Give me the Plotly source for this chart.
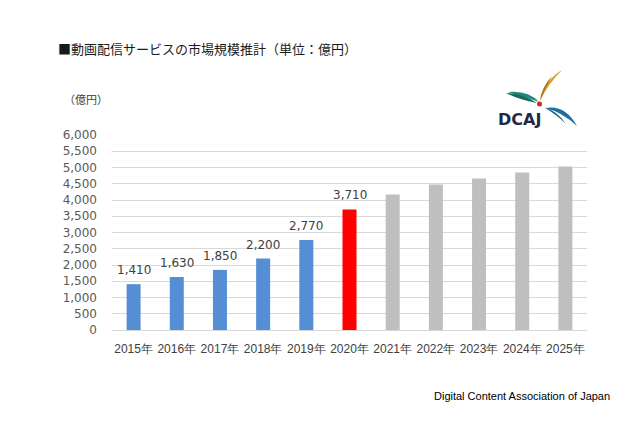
import plotly.graph_objects as go

# ---- data ----
years = ["2015年", "2016年", "2017年", "2018年", "2019年", "2020年",
         "2021年", "2022年", "2023年", "2024年", "2025年"]
values = [1410, 1630, 1850, 2200, 2770, 3710, 4170, 4480, 4660, 4850, 5030]
labeled = [True, True, True, True, True, True, False, False, False, False, False]
bar_colors = ["#558ED5"] * 5 + ["#FF0000"] + ["#BFBFBF"] * 5
y_ticks = [0, 500, 1000, 1500, 2000, 2500, 3000, 3500, 4000, 4500, 5000, 5500, 6000]

title_text = "■動画配信サービスの市場規模推計（単位：億円）"
unit_text = "（億円）"
source_text = "Digital Content Association of Japan"

# page body has an 8px margin, so the figure is laid out 8px in from the window corner
OFF = 8
W, H = 640 - OFF, 425 - OFF
# plot area in window pixels: x 112..587, y 135..330
L = 112 - OFF
T = 135 - OFF
R = W - (587 - OFF)
B = H - (330 - OFF)
PW, PH = W - L - R, H - T - B


def px(x):
    return (x - OFF - L) / PW


def py(y):
    return (H - B - (y - OFF)) / PH


fig = go.Figure()
fig.add_trace(go.Bar(
    x=years, y=values, marker=dict(color=bar_colors, line=dict(width=0)),
    hoverinfo="skip", showlegend=False,
))

annotations = []
for yr, v, lab in zip(years, values, labeled):
    if lab:
        annotations.append(dict(
            x=yr, y=v, xref="x", yref="y", text=f"{v:,}", showarrow=False,
            yanchor="bottom", yshift=5,
            font=dict(family="DejaVu Sans", size=12, color="#404040"),
        ))

annotations += [
    dict(xref="paper", yref="paper", x=px(56), y=py(48), xanchor="left", yanchor="middle",
         text=title_text, showarrow=False,
         font=dict(family="Noto Sans CJK JP", size=13, color="#1a1a1a")),
    dict(xref="paper", yref="paper", x=px(62), y=py(99), xanchor="left", yanchor="middle",
         text=unit_text, showarrow=False,
         font=dict(family="Noto Sans CJK JP", size=11, color="#404040")),
    dict(xref="paper", yref="paper", x=px(612), y=py(396), xanchor="right", yanchor="middle",
         text=source_text, showarrow=False,
         font=dict(family="Liberation Sans", size=11, color="#000000")),
    dict(xref="paper", yref="paper", x=px(496), y=py(119), xanchor="left", yanchor="middle",
         text="<b>DCAJ</b>", showarrow=False,
         font=dict(family="DejaVu Sans", size=16, color="#1c2a4e")),
]


def pth(points):
    out = []
    for p in points:
        if isinstance(p, str):
            out.append(p)
        else:
            out.append(f"{px(p[0]):.5f},{py(p[1]):.5f}")
    return " ".join(out)


shapes = [
    # white logo background covering gridline
    dict(type="rect", xref="paper", yref="paper", x0=px(493), x1=px(583), y0=py(134), y1=py(62),
         fillcolor="white", line=dict(width=0), layer="above"),
    # green swoosh
    dict(type="path", xref="paper", yref="paper",
         path=pth(["M", (508, 92), "Q", (528, 90), (539, 102), "Q", (526, 97), (508, 92), "Z"]),
         fillcolor="#1f8a78", line=dict(width=0), layer="above"),
    dict(type="path", xref="paper", yref="paper",
         path=pth(["M", (506, 93), "Q", (522, 93), (537, 103), "Q", (520, 100), (506, 93), "Z"]),
         fillcolor="#146a5e", line=dict(width=0), layer="above"),
    # gold swoosh
    dict(type="path", xref="paper", yref="paper",
         path=pth(["M", (540, 101), "Q", (545, 80), (562, 70), "Q", (548, 84), (540, 101), "Z"]),
         fillcolor="#d6a222", line=dict(width=0), layer="above"),
    dict(type="path", xref="paper", yref="paper",
         path=pth(["M", (540, 101), "Q", (541, 88), (552, 76), "Q", (545, 88), (540, 101), "Z"]),
         fillcolor="#a8741a", line=dict(width=0), layer="above"),
    # blue swoosh
    dict(type="path", xref="paper", yref="paper",
         path=pth(["M", (545, 108), "Q", (565, 104), (577, 126), "Q", (562, 112), (545, 108), "Z"]),
         fillcolor="#1f6ea0", line=dict(width=0), layer="above"),
    dict(type="path", xref="paper", yref="paper",
         path=pth(["M", (545, 108), "Q", (556, 110), (566, 124), "Q", (556, 114), (545, 108), "Z"]),
         fillcolor="#135a84", line=dict(width=0), layer="above"),
    # red dot
    dict(type="circle", xref="paper", yref="paper", x0=px(537), x1=px(542), y0=py(106.5), y1=py(101.5),
         fillcolor="#c0302a", line=dict(width=0), layer="above"),
]

fig.update_layout(
    width=W, height=H,
    margin=dict(l=L, r=R, t=T, b=B, pad=0),
    paper_bgcolor="white", plot_bgcolor="white",
    bargap=0.676,
    xaxis=dict(
        type="category", showgrid=False, zeroline=False, showline=False,
        ticks="", ticklabelstandoff=10,
        tickfont=dict(family="Liberation Sans", size=12, color="#404040"),
        tickangle=0,
    ),
    yaxis=dict(
        range=[0, 6000], tickvals=y_ticks, tickformat=",",
        showgrid=True, gridcolor="#D9D9D9", gridwidth=1,
        zeroline=True, zerolinecolor="#D9D9D9", zerolinewidth=1,
        showline=False, ticks="", ticklabelstandoff=14,
        tickfont=dict(family="DejaVu Sans", size=12, color="#595959"),
    ),
    annotations=annotations,
    shapes=shapes,
    font=dict(family="DejaVu Sans"),
)

fig.write_html("out.html")
